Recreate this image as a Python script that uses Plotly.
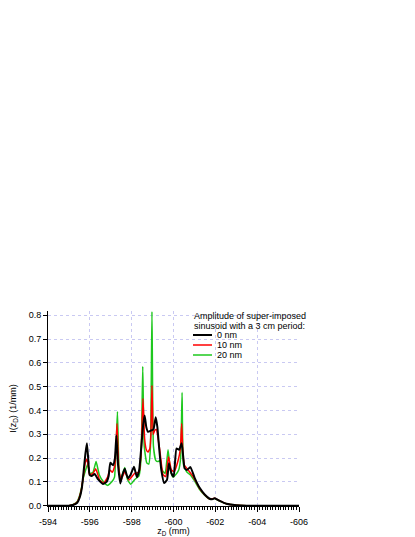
# Gráfico de distribución I(z_D) para distintas amplitudes de sinusoide
import plotly.graph_objects as go


# Datos:
z_0nm = [-594, -595.0, -595.2, -595.4, -595.52, -595.62, -595.71, -595.79, -595.86, -595.92,
         -595.99, -596.1, -596.23, -596.4, -596.63, -596.8, -596.9, -596.98, -597.11, -597.2,
         -597.27, -597.35, -597.46, -597.56, -597.67, -597.82, -597.95, -598.11, -598.25, -598.36,
         -598.46, -598.55, -598.62, -598.7, -598.78, -598.94, -599.04, -599.15, -599.23, -599.31,
         -599.42, -599.55, -599.69, -599.78, -599.9, -600.01, -600.14, -600.27, -600.39, -600.46,
         -600.53, -600.64, -600.81, -601.01, -601.25, -601.49, -601.73, -601.85, -601.97, -602.21,
         -602.53, -603.0, -603.5, -606]
i_0nm = [0, 0.0, 0.003, 0.012, 0.035, 0.075, 0.15, 0.22, 0.262, 0.2,
         0.129, 0.125, 0.133, 0.11, 0.091, 0.1, 0.125, 0.18, 0.17, 0.2,
         0.295, 0.17, 0.093, 0.13, 0.155, 0.115, 0.13, 0.163, 0.12, 0.15,
         0.246, 0.34, 0.379, 0.33, 0.31, 0.316, 0.32, 0.372, 0.33, 0.246,
         0.148, 0.095, 0.108, 0.178, 0.136, 0.122, 0.24, 0.235, 0.262, 0.21,
         0.157, 0.15, 0.162, 0.117, 0.075, 0.047, 0.029, 0.027, 0.031, 0.02,
         0.008, 0.002, 0, 0]

z_10nm = [-594, -595.0, -595.2, -595.4, -595.5, -595.6, -595.7, -595.78, -595.86, -595.92,
          -595.99, -596.15, -596.28, -596.47, -596.66, -596.85, -596.95, -597.08, -597.2, -597.3,
          -597.38, -597.49, -597.67, -597.87, -598.14, -598.35, -598.45, -598.54, -598.62, -598.7,
          -598.78, -598.87, -598.92, -598.97, -599.03, -599.1, -599.18, -599.34, -599.5, -599.63,
          -599.76, -599.9, -600.03, -600.22, -600.33, -600.39, -600.45, -600.52, -600.7, -600.94,
          -601.25, -601.49, -601.73, -601.97, -602.21, -602.53, -603.0, -603.5, -606]
i_10nm = [0, 0.0, 0.004, 0.015, 0.035, 0.07, 0.13, 0.18, 0.195, 0.17,
          0.13, 0.135, 0.155, 0.108, 0.094, 0.12, 0.15, 0.14, 0.17, 0.345,
          0.16, 0.108, 0.143, 0.108, 0.136, 0.14, 0.22, 0.45, 0.28, 0.235,
          0.225, 0.24, 0.3, 0.505, 0.3, 0.316, 0.32, 0.235, 0.13, 0.122,
          0.206, 0.15, 0.143, 0.19, 0.24, 0.345, 0.22, 0.17, 0.15, 0.122,
          0.072, 0.046, 0.028, 0.031, 0.02, 0.008, 0.002, 0, 0]

z_20nm = [-594, -595.0, -595.2, -595.4, -595.5, -595.6, -595.7, -595.8, -595.9, -596.0,
          -596.15, -596.3, -596.45, -596.65, -596.85, -597.05, -597.18, -597.32, -597.4, -597.48,
          -597.67, -597.8, -597.95, -598.15, -598.35, -598.45, -598.53, -598.6, -598.72, -598.82,
          -598.9, -598.97, -599.04, -599.15, -599.25, -599.35, -599.45, -599.6, -599.74, -599.85,
          -599.97, -600.1, -600.25, -600.34, -600.41, -600.48, -600.65, -600.8, -601.0, -601.25,
          -601.49, -601.73, -601.97, -602.21, -602.53, -603.0, -603.5, -606]
i_20nm = [0, 0.0, 0.005, 0.018, 0.04, 0.075, 0.12, 0.15, 0.175, 0.135,
          0.14, 0.185, 0.13, 0.1, 0.085, 0.1, 0.12, 0.395, 0.14, 0.11,
          0.16, 0.11, 0.09, 0.11, 0.125, 0.2, 0.585, 0.25, 0.18, 0.175,
          0.25, 0.815, 0.25, 0.19, 0.185, 0.19, 0.15, 0.135, 0.235, 0.15,
          0.12, 0.13, 0.15, 0.2, 0.475, 0.17, 0.14, 0.13, 0.105, 0.068,
          0.044, 0.027, 0.03, 0.019, 0.008, 0.002, 0, 0]

series_names = ['0 nm', '10 nm', '20 nm']
series_colors = ['#000000', '#ff0000', '#1ec81e']
series_widths = [2, 1.5, 1.5]

x_tickvals = [-594, -596, -598, -600, -602, -604, -606]
x_ticktext = ['-594', '-596', '-598', '-600', '-602', '-604', '-606']
y_tickvals = [0.0, 0.1, 0.2, 0.3, 0.4, 0.5, 0.6, 0.7, 0.8]

legend_title = ['Amplitude of super-imposed', 'sinusoid with a 3 cm period:']

series_z = [z_0nm, z_10nm, z_20nm]
series_i = [i_0nm, i_10nm, i_20nm]
for zz, ii in zip(series_z, series_i):
    assert len(zz) == len(ii)


# Geometría: área del gráfico en píxeles de pantalla (el body tiene 8 px de margen)
OFF = 8
X0, X1, Y0, Y1 = 48, 299, 311, 506
W, H = 415 - OFF, 537 - OFF
L, T = X0 - OFF, Y0 - OFF
R, B = W - L - (X1 - X0), H - T - (Y1 - Y0)


def px(x):
    '''Convierte un píxel horizontal de pantalla a coordenada de papel'''
    return (x - X0) / (X1 - X0)


def py(y):
    '''Convierte un píxel vertical de pantalla a coordenada de papel'''
    return (Y1 - y) / (Y1 - Y0)


FONT = 'Liberation Sans, Arial, sans-serif'
GRID = '#c9c9f2'
FS = 9

fig = go.Figure()

# Curvas (verde y roja debajo, negra encima):
for k in [2, 1, 0]:
    fig.add_trace(
        go.Scatter(
            x    = series_z[k],
            y    = series_i[k],
            mode = 'lines',
            name = series_names[k],
            line = dict(color=series_colors[k], width=series_widths[k],
                        shape='spline', smoothing=0.4)
        )
    )

# Configuración de los ejes:
xaxis = dict(
    range      = [-594, -606],
    automargin = False,
    tickmode   = 'array',
    tickvals   = x_tickvals,
    ticktext   = x_ticktext,
    ticks      = 'outside',
    ticklen    = 5,
    tickwidth  = 1,
    tickcolor  = 'black',
    ticklabelstandoff = 2,
    showline   = True,
    linecolor  = 'black',
    linewidth  = 1,
    showgrid   = True,
    gridcolor  = GRID,
    griddash   = 'dot',
    gridwidth  = 1,
    zeroline   = False,
    minor      = dict(tickmode='linear', tick0=-594, dtick=0.125, ticks='outside',
                      ticklen=3, tickcolor='black', showgrid=False),
    title      = dict(text='z<sub>D</sub> (mm)', standoff=0, font=dict(size=FS)),
    tickfont   = dict(size=FS)
)

yaxis = dict(
    range      = [-0.0015, 0.818],
    automargin = False,
    tickmode   = 'array',
    tickvals   = y_tickvals,
    tickformat = '.1f',
    ticks      = 'outside',
    ticklen    = 4,
    tickwidth  = 1,
    tickcolor  = 'black',
    showline   = True,
    linecolor  = 'black',
    linewidth  = 1,
    showgrid   = True,
    gridcolor  = GRID,
    griddash   = 'dot',
    gridwidth  = 1,
    zeroline   = False,
    title      = dict(text='I(z<sub>D</sub>) (1/mm)', standoff=12, font=dict(size=FS)),
    tickfont   = dict(size=FS)
)

fig.update_layout(
    width         = W,
    height        = H,
    margin        = dict(l=L, r=R, t=T, b=B),
    plot_bgcolor  = 'white',
    paper_bgcolor = 'white',
    showlegend    = False,
    font          = dict(family=FONT, size=FS, color='black'),
    xaxis         = xaxis,
    yaxis         = yaxis
)

# Leyenda manual (fondo blanco que tapa la grilla):
fig.add_shape(
    type = 'rect', xref = 'paper', yref = 'paper',
    x0 = px(190), x1 = px(415), y0 = py(361.5), y1 = py(Y0 - 2),
    fillcolor = 'white', line = dict(width=0), layer = 'between'
)

annotations = []
for line_text, row in zip(legend_title, [315.5, 325.5]):
    annotations.append(dict(
        text = line_text, xref = 'paper', yref = 'paper',
        x = px(192), y = py(row), xanchor = 'left', yanchor = 'middle',
        showarrow = False, font = dict(size=FS)
    ))

legend_rows = [335, 345, 355]
for k, row in enumerate(legend_rows):
    fig.add_shape(
        type = 'line', xref = 'paper', yref = 'paper',
        x0 = px(193), x1 = px(212), y0 = py(row), y1 = py(row),
        line = dict(color=series_colors[k], width=series_widths[k])
    )
    annotations.append(dict(
        text = series_names[k], xref = 'paper', yref = 'paper',
        x = px(215), y = py(row), xanchor = 'left', yanchor = 'middle',
        showarrow = False, font = dict(size=FS)
    ))

fig.update_layout(annotations=annotations)

fig.write_html('out.html')
